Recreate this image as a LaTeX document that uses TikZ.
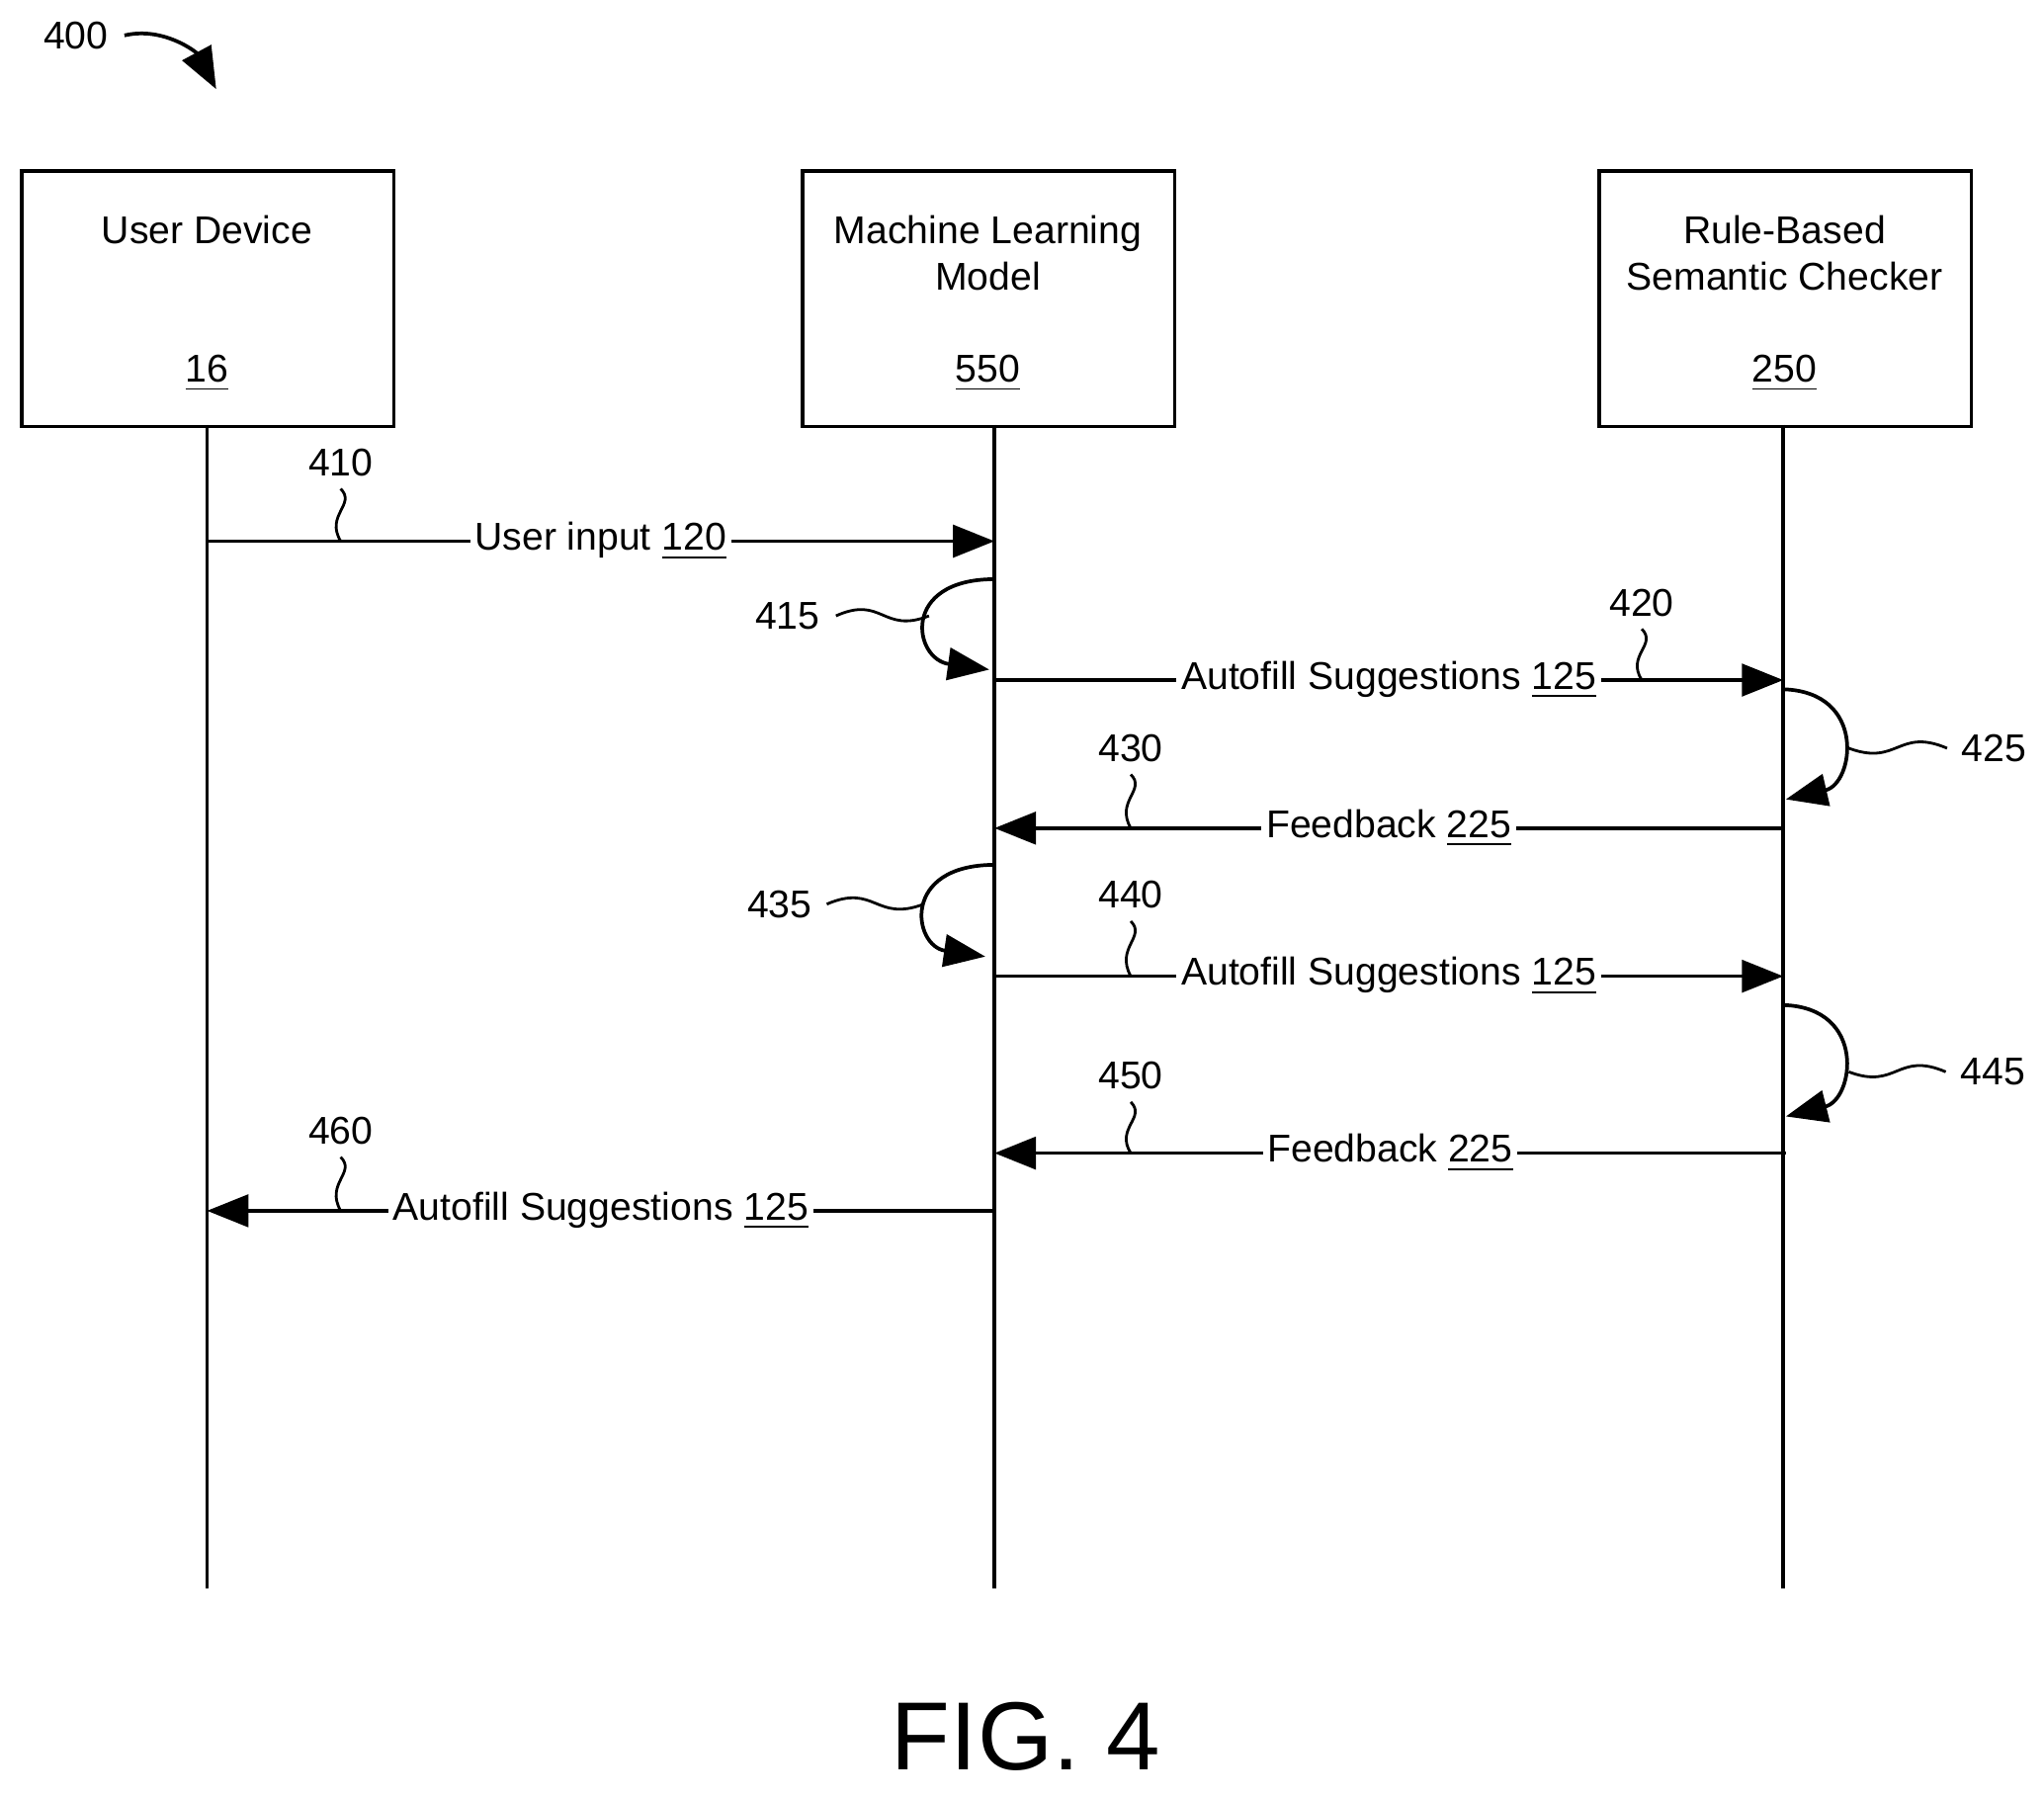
\documentclass[tikz,border=0pt]{standalone}
\usepackage{fontspec}
\setmainfont{Liberation Sans}
\usetikzlibrary{arrows.meta}

\begin{document}
\begin{tikzpicture}[x=0.01cm, y=-0.01cm,
  every node/.style={font=\fontsize{8.4}{10.2}\selectfont},
  box/.style={draw, line width=0.8pt, minimum width=2.84cm, minimum height=1.95cm, anchor=north west},
  life/.style={line width=0.8pt},
  msg/.style={line width=0.8pt, -{Triangle[length=9pt, width=7pt]}},
  lbl/.style={fill=white, inner sep=1pt},
  loop/.style={line width=0.8pt, -{Triangle[length=9pt, width=7pt]}},
  ref/.style={line width=0.6pt}]

\useasboundingbox (0,0) rectangle (1560,1372);

%─────────────
% Actors
%─────────────
\node[box] (ud) at (15,129) {};
\node[box] (ml) at (611,129) {};
\node[box] (rb) at (1219,129) {};
\node[align=center, anchor=north] at (158,152) {User Device};
\node[align=center, anchor=north] at (754,152) {Machine Learning\\Model};
\node[align=center, anchor=north] at (1362,152) {Rule-Based\\Semantic Checker};
\node (udn) at (158,285) {\underline{16}};
\node (mln) at (754,285) {\underline{550}};
\node (rbn) at (1362,285) {\underline{250}};

%─────────────
% Lifelines
%─────────────
\coordinate (udB) at (158,1212);
\coordinate (mlB) at (759,1212);
\coordinate (rbB) at (1361,1212);
\draw[life] (158,324) -- (udB);
\draw[life] (759,324) -- (mlB);
\draw[life] (1361,324) -- (rbB);

%─────────────
% Squiggle marker: x, y-of-number, y-of-line, text
%─────────────
\newcommand{\refmark}[4]{%
  \node at (#1,#2) {#4};
  \draw[ref] (#1,#2+20) .. controls (#1+12,#2+32) and (#1-12,#2+40) .. (#1,#3);
}
% sideways squiggle: x, y, start-x, end-x, text
\newcommand{\sidemark}[5]{%
  \node at (#1,#2) {#5};
  \draw[ref] (#3,#2) .. controls ({(#3+#4)/2},#2-16) and ({(#3+#4)/2},#2+14) .. (#4,#2);
}

%─────────────
% Messages
%─────────────
\coordinate (m1a) at (158,413);  \coordinate (m1b) at (759,413);
\draw[msg] (m1a) -- node[lbl, pos=0.5] (m1) {User input \underline{120}} (m1b);
\refmark{260}{353}{413}{410}

\draw[loop] (759,442) .. controls (687,442) and (697,503) .. (755,511);
\sidemark{601}{470}{638}{709}{415}

\coordinate (m2a) at (759,519);  \coordinate (m2b) at (1361,519);
\draw[msg] (m2a) -- node[lbl, pos=0.5] (m2) {Autofill Suggestions \underline{125}} (m2b);
\refmark{1253}{460}{519}{420}

\draw[loop] (1361,526) .. controls (1425,528) and (1415,598) .. (1363,610);
\sidemark{1522}{571}{1486}{1411}{425}

\coordinate (m3a) at (1361,632);  \coordinate (m3b) at (759,632);
\draw[msg] (m3a) -- node[lbl, pos=0.5] (m3) {Feedback \underline{225}} (m3b);
\refmark{863}{571}{632}{430}

\draw[loop] (759,660) .. controls (687,660) and (697,722) .. (752,730);
\sidemark{595}{690}{631}{705}{435}

\coordinate (m4a) at (759,745);  \coordinate (m4b) at (1361,745);
\draw[msg] (m4a) -- node[lbl, pos=0.5] (m4) {Autofill Suggestions \underline{125}} (m4b);
\refmark{863}{683}{745}{440}

\draw[loop] (1361,767) .. controls (1425,769) and (1415,839) .. (1363,852);
\sidemark{1521}{818}{1485}{1411}{445}

\coordinate (m5a) at (1363,880);  \coordinate (m5b) at (759,880);
\draw[msg] (m5a) -- node[lbl, pos=0.5] (m5) {Feedback \underline{225}} (m5b);
\refmark{863}{821}{880}{450}

\coordinate (m6a) at (759,924);  \coordinate (m6b) at (158,924);
\draw[msg] (m6a) -- node[lbl, pos=0.5] (m6) {Autofill Suggestions \underline{125}} (m6b);
\refmark{260}{863}{924}{460}

%─────────────
% Figure labels
%─────────────
\node (fig) at (58,27) {400};
\draw[line width=0.8pt, -{Triangle[length=9pt, width=7pt]}] (95,27) .. controls (125,20) and (150,40) .. (165,68);
\node[font=\fontsize{21}{25}\selectfont] at (783,1325) {FIG. 4};
\end{tikzpicture}
\end{document}
